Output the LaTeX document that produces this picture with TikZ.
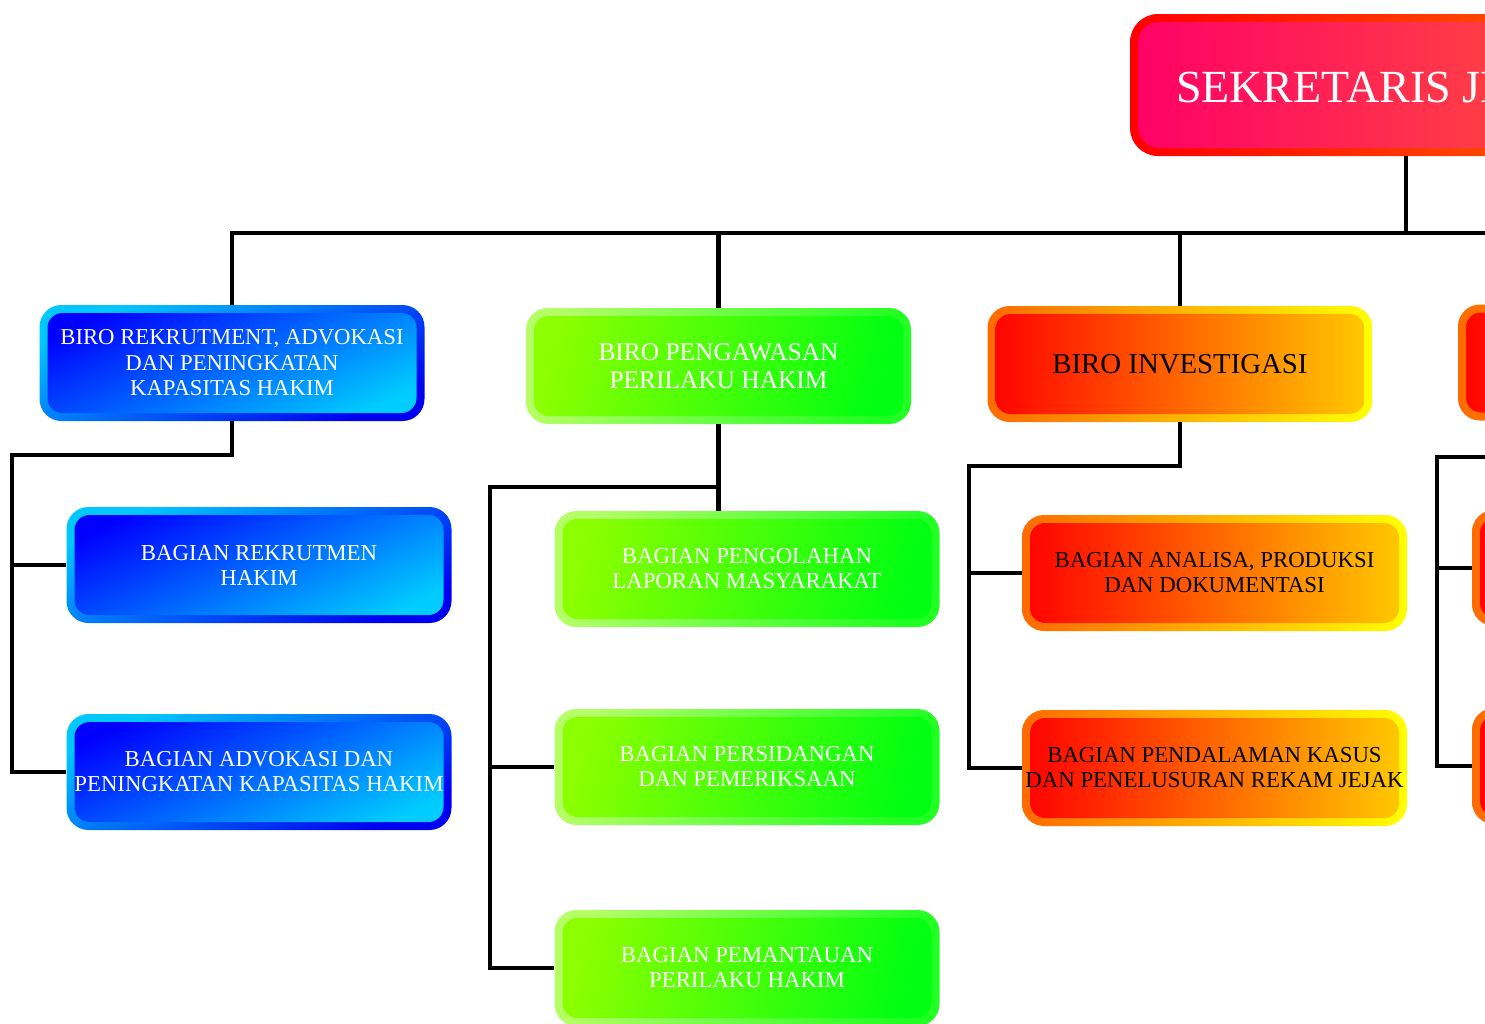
\documentclass[tikz,border=0pt]{standalone}
\usepackage{fontspec}
\setmainfont{Liberation Serif}
\definecolor{bOutA}{HTML}{00C8FF}
\definecolor{bOutB}{HTML}{0000F0}
\definecolor{bInA}{HTML}{0000FF}
\definecolor{bInB}{HTML}{00CCFF}
\definecolor{gOutA}{HTML}{B4FF66}
\definecolor{gOutB}{HTML}{22FF22}
\definecolor{gInA}{HTML}{8CFF00}
\definecolor{gInB}{HTML}{00FF12}
\definecolor{oOutA}{HTML}{FF6A00}
\definecolor{oOutB}{HTML}{FFFF00}
\definecolor{oInA}{HTML}{FF0000}
\definecolor{oInB}{HTML}{FFCC00}
\definecolor{sOutA}{HTML}{FF0000}
\definecolor{sOutB}{HTML}{FF6A00}
\definecolor{sInA}{HTML}{FF0066}
\definecolor{sInB}{HTML}{FF5E34}
\tikzset{
  conn/.style={line width=4.2pt, black},
  innerfill/.style n args={4}{path picture={\shade[rounded corners=#4, left color=#1, right color=#2, shading angle=#3]
      ([shift={(8pt,-8pt)}]path picture bounding box.north west) rectangle
      ([shift={(-8pt,8pt)}]path picture bounding box.south east);}},
  orgbox/.style={rounded corners=22pt, minimum width=385pt, minimum height=116pt, inner sep=0pt, align=center,
      font=\fontsize{22.8}{25}\selectfont},
  bluebox/.style={orgbox, text=white, left color=bOutA, right color=bOutB, shading angle=25,
      innerfill={bInA}{bInB}{25}{15pt}},
  greenbox/.style={orgbox, text=white, left color=gOutA, right color=gOutB, shading angle=75,
      innerfill={gInA}{gInB}{75}{15pt}},
  orangebox/.style={orgbox, text=black, left color=oOutA, right color=oOutB, shading angle=90,
      innerfill={oInA}{oInB}{90}{15pt}},
  topbox/.style={rounded corners=28pt, minimum width=552pt, minimum height=142pt, inner sep=0pt,
      left color=sOutA, right color=sOutB, shading angle=90, innerfill={sInA}{sInB}{90}{21pt}},
}
\begin{document}
\begin{tikzpicture}[x=1pt, y=-1pt]
\useasboundingbox (0,0) rectangle (1485,1023);
\clip (0,0) rectangle (1485,1023);

% top
\node[topbox, label={[anchor=west, text=white, font=\fontsize{46}{50}\selectfont, inner sep=0pt, xshift=46pt, yshift=-2pt]west:SEKRETARIS JENDERAL}] (sek) at (1406,85) {};

% level 1
\node[bluebox, font=\fontsize{22.7}{25.5}\selectfont] (b1) at (232,363) {BIRO REKRUTMENT, ADVOKASI\\DAN PENINGKATAN\\KAPASITAS HAKIM};
\node[greenbox, font=\fontsize{25.4}{28}\selectfont] (b2) at (718.5,366) {BIRO PENGAWASAN\\PERILAKU HAKIM};
\node[orangebox, font=\fontsize{28.8}{31}\selectfont] (b3) at (1180,364) {BIRO INVESTIGASI};
\node[orangebox] (b4) at (1650.5,362.5) {};

% level 2
\node[bluebox] (c11) at (259,565) {BAGIAN REKRUTMEN\\HAKIM};
\node[bluebox] (c12) at (259,772) {BAGIAN ADVOKASI DAN\\PENINGKATAN KAPASITAS HAKIM};
\node[greenbox] (c21) at (747,569) {BAGIAN PENGOLAHAN\\LAPORAN MASYARAKAT};
\node[greenbox] (c22) at (747,767) {BAGIAN PERSIDANGAN\\DAN PEMERIKSAAN};
\node[greenbox] (c23) at (747,968) {BAGIAN PEMANTAUAN\\PERILAKU HAKIM};
\node[orangebox] (c31) at (1214.5,573) {BAGIAN ANALISA, PRODUKSI\\DAN DOKUMENTASI};
\node[orangebox] (c32) at (1214.5,768) {BAGIAN PENDALAMAN KASUS\\DAN PENELUSURAN REKAM JEJAK};
\node[orangebox] (c41) at (1664.5,568) {};
\node[orangebox] (c42) at (1664.5,766) {};

% bus
\coordinate (busR) at (1600,233);
\draw[conn] (sek.south) -- (sek.south |- busR);
\draw[conn] (b1.north) |- (busR);
\draw[conn] (b2.north) -- (b2.north |- busR);
\draw[conn] (b3.north) -- (b3.north |- busR);
\draw[conn] (b4.north) -- (b4.north |- busR);

% column 1
\coordinate (s1) at (12,455);
\draw[conn] (b1.south) |- (s1) -- (s1 |- c12.west) -- (c12.west);
\draw[conn] (s1 |- c11.west) -- (c11.west);

% column 2
\coordinate (s2) at (490,487);
\draw[conn] (b2.south) -- (b2.south |- c21.north);
\draw[conn] (b2.south |- s2) -- (s2) -- (s2 |- c23.west) -- (c23.west);
\draw[conn] (s2 |- c22.west) -- (c22.west);

% column 3
\coordinate (s3) at (969,466);
\draw[conn] (b3.south) |- (s3) -- (s3 |- c32.west) -- (c32.west);
\draw[conn] (s3 |- c31.west) -- (c31.west);

% column 4
\coordinate (s4) at (1437,457);
\draw[conn] (b4.south) |- (s4) -- (s4 |- c42.west) -- (c42.west);
\draw[conn] (s4 |- c41.west) -- (c41.west);
\end{tikzpicture}
\end{document}
